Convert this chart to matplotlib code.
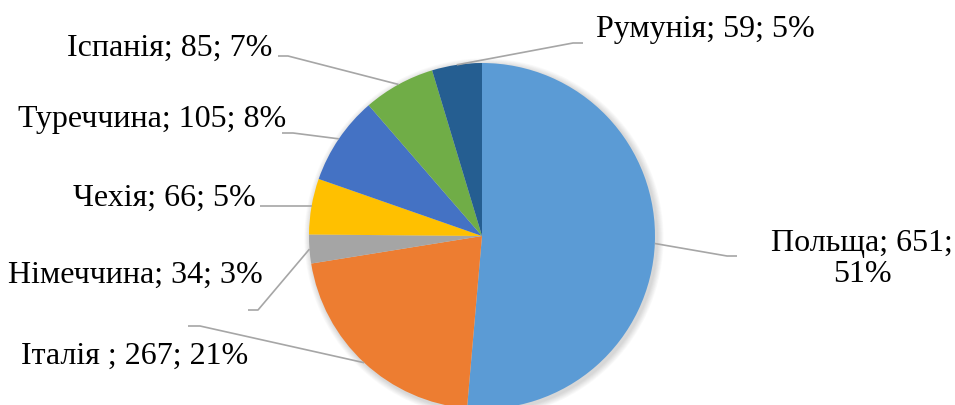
import numpy as np
import matplotlib.pyplot as plt
from matplotlib.patches import Circle

# kraina -> kilkist
countries = ["Польща", "Італія ", "Німеччина", "Чехія", "Туреччина", "Іспанія", "Румунія"]
values = [651, 267, 34, 66, 105, 85, 59]
colors = ["#5B9BD5", "#ED7D31", "#A5A5A5", "#FFC000", "#4472C4", "#70AD47", "#255E91"]

W, H = 955, 405
cx, cy, R = 482, H - 236, 173

# label placement in pixels (y from top): text x, text y, ha, leader end, leader elbow
label_layout = [
    (862, 259, "center", (737, 256), (727, 256)),
    (135, 356, "center", (188, 326), (200, 326)),
    (135, 275, "center", (248, 310), (258, 310)),
    (164, 198, "center", (260, 206), None),
    (152, 120, "center", (282, 133), (293, 133)),
    (170, 48, "center", (278, 56), (288, 56)),
    (705, 30, "center", (583, 43), (573, 43)),
]

plt.rcParams["font.family"] = ["Liberation Serif", "DejaVu Serif"]

fig = plt.figure(figsize=(W / 100, H / 100), dpi=100)
ax = fig.add_axes([0, 0, 1, 1])

# soft shadow under the pie
for k in range(8):
    ax.add_patch(Circle((cx + 2, cy - 2), R + 1 + k * 0.8, color="black",
                        alpha=0.018, lw=0, zorder=1))

wedges, _ = ax.pie(values, colors=colors, startangle=90, counterclock=False,
                   center=(cx, cy), radius=R, frame=True,
                   wedgeprops=dict(linewidth=0, zorder=2))
ax.set_xlim(0, W)
ax.set_ylim(0, H)
ax.set_aspect("equal")
ax.axis("off")

total = sum(values)
for name, val, w, lay in zip(countries, values, wedges, label_layout):
    tx, ty, ha, end, elbow = lay
    pct = round(val / total * 100)
    if name == "Польща":
        text = f"{name}; {val};\n{pct}%"
    else:
        text = f"{name}; {val}; {pct}%"
    ax.text(tx, H - ty, text, ha=ha, va="center", fontsize=23,
            linespacing=1.08, multialignment="center", zorder=4)

    mid = np.deg2rad((w.theta1 + w.theta2) / 2)
    sx, sy = cx + R * np.cos(mid), cy + R * np.sin(mid)
    xs = [sx]
    ys = [sy]
    if elbow is not None:
        xs.append(elbow[0])
        ys.append(H - elbow[1])
    xs.append(end[0])
    ys.append(H - end[1] if elbow is not None else sy)
    ax.plot(xs, ys, color="#A6A6A6", lw=1.2, zorder=3, solid_capstyle="butt")

fig.savefig("out.png", dpi=100)
